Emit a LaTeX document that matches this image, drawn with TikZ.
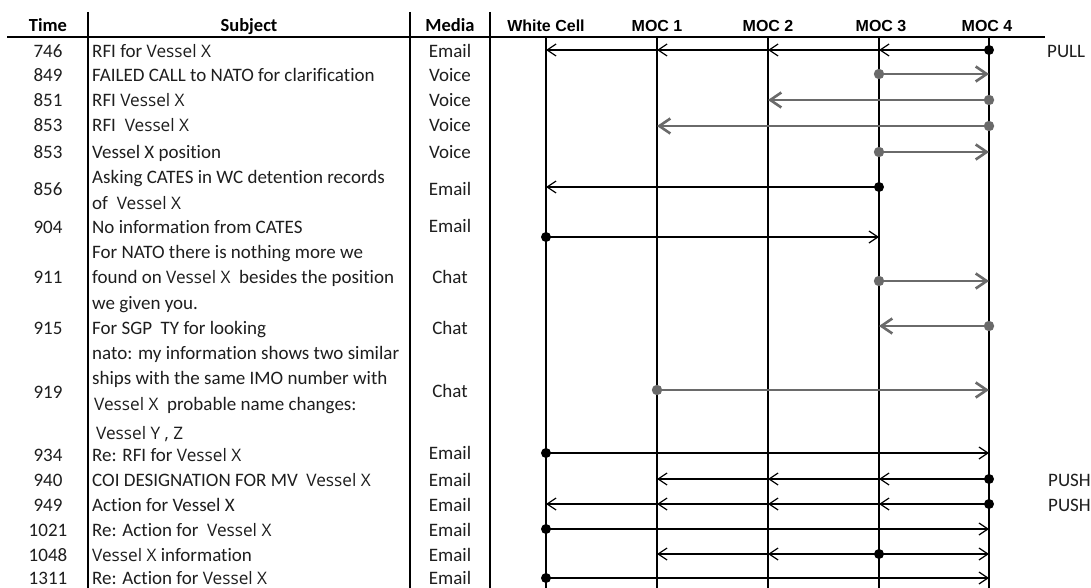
\documentclass[tikz,border=0pt]{standalone}
\usepackage{fontspec}
\setmainfont{Carlito}[Ligatures=CommonOff]
\newfontfamily\arialf{Liberation Sans}
\newfontfamily\vesfont{Open Sans}
\usetikzlibrary{arrows.meta}
\definecolor{txtc}{HTML}{1E1E1E}
\definecolor{grayarr}{HTML}{6A6A6A}
\newcommand{\vsl}[1]{{\vesfont\fontsize{17.2}{20}\selectfont #1}}
\begin{document}
\begin{tikzpicture}[x=1pt,y=-1pt,
  body/.style={font=\fontsize{19}{22}\selectfont, inner sep=0pt, text=txtc, anchor=base},
  subj/.style={body, anchor=base west},
  hdr/.style={font=\fontsize{18.5}{22}\selectfont\bfseries, inner sep=0pt, anchor=base},
  ahdr/.style={font=\arialf\fontsize{16}{20}\selectfont\bfseries, inner sep=0pt, anchor=base},
  rulel/.style={line width=1.3pt, black},
  life/.style={line width=1.4pt, black},
  blk/.style={line width=1.2pt, -{Straight Barb[length=9pt,width=12pt]}},
  gry/.style={line width=2.6pt, grayarr, -{Straight Barb[length=11pt,width=15pt]}},
  bdot/.style={fill=black},
  gdot/.style={fill=grayarr}]
\path[use as bounding box, fill=white] (0,0) rectangle (1091,588);

% lifeline and column coordinates
\coordinate (wc) at (546,37);  \coordinate (wcb) at (546,588);
\coordinate (m1) at (657,37);  \coordinate (m1b) at (657,588);
\coordinate (m2) at (768,37);  \coordinate (m2b) at (768,588);
\coordinate (m3) at (879,37);  \coordinate (m3b) at (879,588);
\coordinate (m4) at (989,37);  \coordinate (m4b) at (989,588);
\coordinate (c1t) at (88,12);  \coordinate (c1b) at (88,588);
\coordinate (c2t) at (410,12); \coordinate (c2b) at (410,588);
\coordinate (c3t) at (490,12); \coordinate (c3b) at (490,588);
\coordinate (hl) at (7,37);    \coordinate (hr) at (1045,37);

% rows (arrow heights)
\foreach \n/\y in {1/50,2/74,3/100,4/126,5/152,6/187,7/237,8/281,9/326,10/390,11/453,12/479,13/504,14/529,15/554,16/578}
  \coordinate (r\n) at (0,\y);

% grid
\draw[rulel] (hl) -- (hr);
\draw[rulel] (c1t) -- (c1b);
\draw[rulel] (c2t) -- (c2b);
\draw[rulel] (c3t) -- (c3b);
\foreach \l in {wc,m1,m2,m3,m4} \draw[life] (\l) -- (\l b);

% headers (baselines)
\node[hdr] (hTime) at (48,32) {Time};
\node[hdr] (hSubj) at (249,32) {Subject};
\node[hdr] (hMedia) at (450,32) {Media};
\node[ahdr] (hWC) at (546,32) {White Cell};
\node[ahdr] (hM1) at (657,32) {MOC 1};
\node[ahdr] (hM2) at (768,32) {MOC 2};
\node[ahdr] (hM3) at (881,32) {MOC 3};
\node[ahdr] (hM4) at (987,32) {MOC 4};

% time column (baselines = centre + 6)
\foreach \n/\y/\t in {1/58/746,2/82/849,3/107/851,4/132/853,5/159/853,6/196/856,7/233/904,8/283/911,9/334/915,10/398/919,11/461/934,12/486/940,13/511/949,14/536/1021,15/561/1048,16/584/1311}
  \node[body] (t\n) at (48,\y) {\t};

% media column
\foreach \n/\y/\m in {1/58/Email,2/82/Voice,3/107/Voice,4/132/Voice,5/159/Voice,6/195/Email,7/232/Email,8/283/Chat,9/334/Chat,10/397/Chat,11/459/Email,12/486/Email,13/511/Email,14/536/Email,15/561/Email,16/584/Email}
  \node[body] (md\n) at (450,\y) {\m};

% subject column
\node[subj] (s1) at (92,58) {RFI for \vsl{Vessel X}};
\node[subj] (s2) at (92,82) {FAILED CALL to NATO for clarification};
\node[subj] (s3) at (92,107) {RFI \vsl{Vessel X}};
\node[subj] (s4) at (92,132) {RFI \vsl{ Vessel X}};
\node[subj] (s5) at (92,159) {Vessel X position};
\node[subj] (s6a) at (92,183) {Asking CATES in WC detention records};
\node[subj] (s6b) at (92,209) {of \vsl{ Vessel X}};
\node[subj] (s7) at (92,233) {No information from CATES};
\node[subj] (s8a) at (92,258) {For NATO there is nothing more we};
\node[subj] (s8b) at (92,283) {found on \vsl{Vessel X}\ \ besides the position};
\node[subj] (s8c) at (92,309) {we given you.};
\node[subj] (s9) at (92,334) {For SGP\ \ TY for looking};
\node[subj] (s10a) at (92,359) {nato: my information shows two similar};
\node[subj] (s10b) at (92,384) {ships with the same IMO number with};
\node[subj] (s10c) at (94,410) {\vsl{Vessel X}\ \ probable name changes:};
\node[subj] (s10d) at (96,439) {\vsl{Vessel Y , Z}};
\node[subj] (s11) at (92,461) {Re: RFI for \vsl{Vessel X}};
\node[subj] (s12) at (92,486) {COI DESIGNATION FOR MV\ \ \vsl{Vessel X}};
\node[subj] (s13) at (92,511) {Action for Vessel X};
\node[subj] (s14) at (92,536) {Re: Action for \ \vsl{Vessel X}};
\node[subj] (s15) at (92,561) {\vsl{Vessel X} information};
\node[subj] (s16) at (92,584) {Re: Action for \vsl{Vessel X}};

% side labels
\node[subj] (pull) at (1047,58) {PULL};
\node[subj] (push1) at (1048,486) {PUSH};
\node[subj] (push2) at (1048,511) {PUSH};

% ---- messages ----
% 746
\draw[blk] (m4|-r1) -- (m3|-r1);
\draw[blk] (m3|-r1) -- (m2|-r1);
\draw[blk] (m2|-r1) -- (m1|-r1);
\draw[blk] (m1|-r1) -- (wc|-r1);
\fill[bdot] (m4|-r1) circle (5pt);
% 849
\draw[gry] (m3|-r2) -- (m4|-r2);
\fill[gdot] (m3|-r2) circle (5.2pt);
% 851
\draw[gry] (m4|-r3) -- (m2|-r3);
\fill[gdot] (m4|-r3) circle (5.2pt);
% 853
\draw[gry] (m4|-r4) -- (m1|-r4);
\fill[gdot] (m4|-r4) circle (5.2pt);
% 853 position
\draw[gry] (m3|-r5) -- (m4|-r5);
\fill[gdot] (m3|-r5) circle (5.2pt);
% 856
\draw[blk] (m3|-r6) -- (wc|-r6);
\fill[bdot] (m3|-r6) circle (5pt);
% 904
\draw[blk] (wc|-r7) -- (m3|-r7);
\fill[bdot] (wc|-r7) circle (5pt);
% 911
\draw[gry] (m3|-r8) -- (m4|-r8);
\fill[gdot] (m3|-r8) circle (5.2pt);
% 915
\draw[gry] (m4|-r9) -- (m3|-r9);
\fill[gdot] (m4|-r9) circle (5.2pt);
% 919
\draw[gry] (m1|-r10) -- (m4|-r10);
\fill[gdot] (m1|-r10) circle (5.2pt);
% 934
\draw[blk] (wc|-r11) -- (m4|-r11);
\fill[bdot] (wc|-r11) circle (5pt);
% 940
\draw[blk] (m4|-r12) -- (m3|-r12);
\draw[blk] (m3|-r12) -- (m2|-r12);
\draw[blk] (m2|-r12) -- (m1|-r12);
\fill[bdot] (m4|-r12) circle (5pt);
% 949
\draw[blk] (m4|-r13) -- (m3|-r13);
\draw[blk] (m3|-r13) -- (m2|-r13);
\draw[blk] (m2|-r13) -- (m1|-r13);
\draw[blk] (m1|-r13) -- (wc|-r13);
\fill[bdot] (m4|-r13) circle (5pt);
% 1021
\draw[blk] (wc|-r14) -- (m4|-r14);
\fill[bdot] (wc|-r14) circle (5pt);
% 1048
\draw[blk] (m3|-r15) -- (m2|-r15);
\draw[blk] (m2|-r15) -- (m1|-r15);
\draw[blk] (m3|-r15) -- (m4|-r15);
\fill[bdot] (m3|-r15) circle (5pt);
% 1311
\draw[blk] (wc|-r16) -- (m4|-r16);
\fill[bdot] (wc|-r16) circle (5pt);
\end{tikzpicture}
\end{document}
